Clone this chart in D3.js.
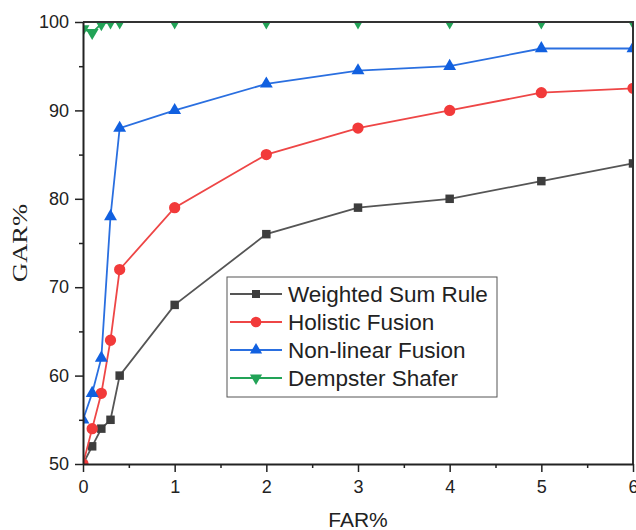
<!DOCTYPE html>
<html>
<head>
<meta charset="utf-8">
<script src="https://cdn.jsdelivr.net/npm/d3@7"></script>
<style>
  body { margin: 0; background: #fff; }
  svg { display: block; }
  .axis text { font-family: "Liberation Sans", Arial, sans-serif; font-size: 18px; fill: #222; }
  .axis path, .axis line { stroke: #222; }
</style>
</head>
<body>
<script>
// data
var far = [0, 0.1, 0.2, 0.3, 0.4, 1, 2, 3, 4, 5, 6];
var weightedSum = [50, 52, 54, 55, 60, 68, 76, 79, 80, 82, 84];
var holistic = [50, 54, 58, 64, 72, 79, 85, 88, 90, 92, 92.5];
var nonLinear = [55, 58, 62, 78, 88, 90, 93, 94.5, 95, 97, 97];
var dempster = [99.2, 98.8, 99.8, 100, 100, 100, 100, 100, 100, 100, 100];
var seriesNames = ["Weighted Sum Rule", "Holistic Fusion", "Non-linear Fusion", "Dempster Shafer"];
var xTicks = [0, 1, 2, 3, 4, 5, 6];
var yTicks = [50, 60, 70, 80, 90, 100];

var series = [
  { name: seriesNames[0], values: weightedSum, line: "#555", fill: "#3d3d3d", sym: d3.symbolSquare, size: 72, rot: 0 },
  { name: seriesNames[1], values: holistic, line: "#ee4646", fill: "#f23a3a", sym: d3.symbolCircle, size: 100, rot: 0 },
  { name: seriesNames[2], values: nonLinear, line: "#2a6fe0", fill: "#1160e0", sym: d3.symbolTriangle, size: 72, rot: 0 },
  { name: seriesNames[3], values: dempster, line: "#22a357", fill: "#22a357", sym: d3.symbolTriangle, size: 72, rot: 180 }
];

var W = 636, H = 530;
var mLeft = 83, mRight = 633, mTop = 22, mBottom = 464;

var x = d3.scaleLinear().domain([0, 6]).range([mLeft, mRight]);
var y = d3.scaleLinear().domain([50, 100]).range([mBottom, mTop]);

var svg = d3.select("body").append("svg")
    .attr("width", W)
    .attr("height", H);

svg.append("clipPath").attr("id", "plotclip")
  .append("rect")
    .attr("x", mLeft).attr("y", mTop)
    .attr("width", mRight - mLeft).attr("height", mBottom - mTop);

// lines and markers
var plot = svg.append("g").attr("clip-path", "url(#plotclip)");
var line = d3.line()
    .x(function(d, i) { return x(far[i]); })
    .y(function(d) { return y(d); });

series.forEach(function(s) {
  plot.append("path")
      .datum(s.values)
      .attr("fill", "none")
      .attr("stroke", s.line)
      .attr("stroke-width", 1.8)
      .attr("d", line);
  plot.selectAll(null)
      .data(s.values)
    .enter().append("path")
      .attr("d", d3.symbol().type(s.sym).size(s.size))
      .attr("fill", s.fill)
      .attr("transform", function(d, i) {
        return "translate(" + x(far[i]) + "," + y(d) + ") rotate(" + s.rot + ")";
      });
});

// frame (top + right), drawn over the data
svg.append("path")
    .attr("d", "M" + mLeft + "," + mTop + "H" + mRight + "V" + mBottom)
    .attr("fill", "none")
    .attr("stroke", "#333")
    .attr("stroke-width", 2);

// minor ticks
var xMinor = d3.range(0.5, 6, 1);
var yMinor = d3.range(55, 100, 10);
svg.append("g")
    .attr("class", "axis")
    .attr("transform", "translate(0," + mBottom + ")")
    .call(d3.axisBottom(x).tickValues(xMinor).tickSize(4).tickFormat(""))
    .call(g => g.select(".domain").remove())
    .selectAll("line").attr("stroke-width", 1.5);
svg.append("g")
    .attr("class", "axis")
    .attr("transform", "translate(" + mLeft + ",0)")
    .call(d3.axisLeft(y).tickValues(yMinor).tickSize(4).tickFormat(""))
    .call(g => g.select(".domain").remove())
    .selectAll("line").attr("stroke-width", 1.5);

// major axes
var xAxis = svg.append("g")
    .attr("class", "axis")
    .attr("transform", "translate(0," + mBottom + ")")
    .call(d3.axisBottom(x).tickValues(xTicks).tickSize(8).tickSizeOuter(0).tickPadding(8).tickFormat(d3.format("d")));
var yAxis = svg.append("g")
    .attr("class", "axis")
    .attr("transform", "translate(" + mLeft + ",0)")
    .call(d3.axisLeft(y).tickValues(yTicks).tickSize(8).tickSizeOuter(0).tickPadding(6).tickFormat(d3.format("d")));
svg.selectAll(".axis .domain").attr("stroke-width", 2);
xAxis.selectAll("line").attr("stroke-width", 1.5);
yAxis.selectAll("line").attr("stroke-width", 1.5);

// axis titles
svg.append("text")
    .attr("x", (mLeft + mRight) / 2)
    .attr("y", 527)
    .attr("text-anchor", "middle")
    .style("font-family", "'Liberation Sans', Arial, sans-serif")
    .style("font-size", "21px")
    .style("fill", "#222")
    .text("FAR%");
svg.append("text")
    .attr("transform", "translate(27,243) rotate(-90)")
    .attr("text-anchor", "middle")
    .attr("textLength", 78)
    .attr("lengthAdjust", "spacingAndGlyphs")
    .style("font-family", "'Liberation Serif', 'Times New Roman', serif")
    .style("font-size", "21px")
    .style("fill", "#222")
    .text("GAR%");

// legend
var lg = svg.append("g").attr("transform", "translate(227,277)");
lg.append("rect")
    .attr("width", 270).attr("height", 120)
    .attr("fill", "#fff")
    .attr("stroke", "#555")
    .attr("stroke-width", 1);
var rowY = d3.scaleBand().domain(seriesNames).range([3, 115]);
series.forEach(function(s) {
  var cy = rowY(s.name) + rowY.bandwidth() / 2;
  lg.append("line")
      .attr("x1", 3).attr("x2", 55)
      .attr("y1", cy).attr("y2", cy)
      .attr("stroke", s.line).attr("stroke-width", 1.8);
  lg.append("path")
      .attr("d", d3.symbol().type(s.sym).size(s.size * 0.9))
      .attr("fill", s.fill)
      .attr("transform", "translate(29," + cy + ") rotate(" + s.rot + ")");
  lg.append("text")
      .attr("x", 61).attr("y", cy)
      .attr("dy", "0.36em")
      .style("font-family", "'Liberation Sans', Arial, sans-serif")
      .style("font-size", "22.5px")
      .style("fill", "#222")
      .text(s.name);
});
</script>
</body>
</html>
